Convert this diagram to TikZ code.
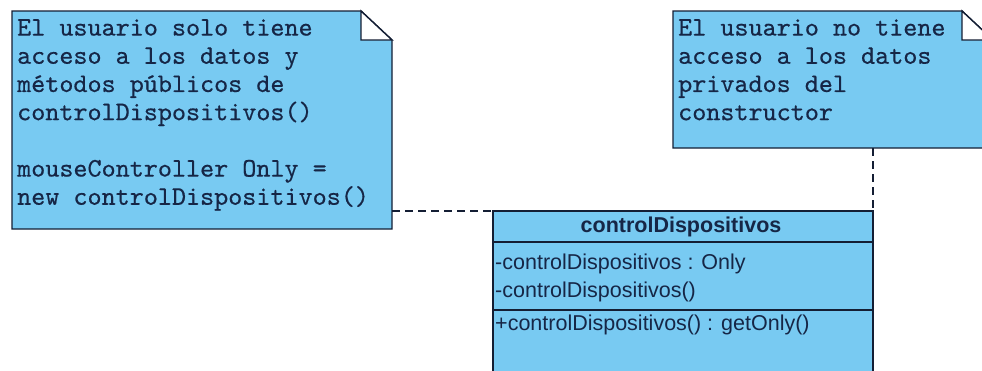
\documentclass[tikz,border=0pt]{standalone}
\usepackage{fontspec}
\newfontfamily\umlfont{Liberation Sans}
\newfontfamily\notefont{lmmono10-regular.otf}[FakeBold=0.5]
\definecolor{umlfill}{RGB}{120,202,242}
\definecolor{umlline}{RGB}{20,30,52}
\definecolor{umltext}{RGB}{22,38,70}
\tikzset{
  notebody/.style={fill=umlfill, draw=umlline, line width=1.4pt, line join=miter},
  notefold/.style={fill=white, draw=umlline, line width=1.4pt},
  frame/.style={draw=none, inner sep=0pt, outer sep=0pt},
  notetext/.style={anchor=north west, inner sep=0pt, align=left, text=umltext,
    font={\notefont\fontsize{26.8}{28.2}\selectfont}},
  classbox/.style={fill=umlfill, draw=umlline, line width=1.4pt, inner sep=0pt, outer sep=0pt},
  classtitle/.style={inner sep=0pt, text=umltext, font={\umlfont\bfseries\fontsize{21.5}{26}\selectfont}},
  member/.style={anchor=base west, inner sep=0pt, text=umltext, font={\umlfont\fontsize{21.5}{26}\selectfont}},
  anchorline/.style={draw=umlline, line width=1.3pt, dash pattern=on 8pt off 5pt}
}
\begin{document}
\begin{tikzpicture}[x=1pt,y=-1pt]
\clip (0,0) rectangle (982,370);
\fill[white] (0,0) rectangle (982,370);

% left note
\node[frame, anchor=north west, minimum width=380pt, minimum height=218pt] (n1) at (12,11) {};
\path[notebody] (n1.north west) -- ([xshift=-31pt]n1.north east) -- ([yshift=-29pt]n1.north east)
  -- (n1.south east) -- (n1.south west) -- cycle;
\path[notefold] ([xshift=-31pt]n1.north east) -- ([yshift=-29pt]n1.north east)
  -| cycle;
\node[notetext] (t1) at (17,19) {El usuario solo tiene\\acceso a los datos y\\métodos públicos de\\controlDispositivos()\\[28.2pt]mouseController Only =\\new controlDispositivos()};

% right note
\node[frame, anchor=north west, minimum width=320pt, minimum height=137pt] (n2) at (673,11) {};
\path[notebody] (n2.north west) -- ([xshift=-31pt]n2.north east) -- ([yshift=-29pt]n2.north east)
  -- (n2.south east) -- (n2.south west) -- cycle;
\path[notefold] ([xshift=-31pt]n2.north east) -- ([yshift=-29pt]n2.north east)
  -| cycle;
\node[notetext] (t2) at (678,19) {El usuario no tiene\\acceso a los datos\\privados del\\constructor};

% class box with its compartments
\node[classbox, anchor=north west, minimum width=380pt, minimum height=170pt] (c) at (493,211) {};
\draw[umlline, line width=1.4pt] ([yshift=-31pt]c.north west) -- ([yshift=-31pt]c.north east);
\draw[umlline, line width=1.4pt] ([yshift=-99pt]c.north west) -- ([yshift=-99pt]c.north east);
\node[classtitle] (ct) at (681,227) {controlDispositivos};
\node[member] (a1) at (495,269) {-controlDispositivos : Only};
\node[member] (a2) at (495,297) {-controlDispositivos()};
\node[member] (m1) at (495,330) {+controlDispositivos() : getOnly()};

% note anchors
\draw[anchorline] (n1.east |- c.north west) -- (c.north west);
\draw[anchorline] (n2.south -| c.north east) -- (c.north east);
\end{tikzpicture}
\end{document}
